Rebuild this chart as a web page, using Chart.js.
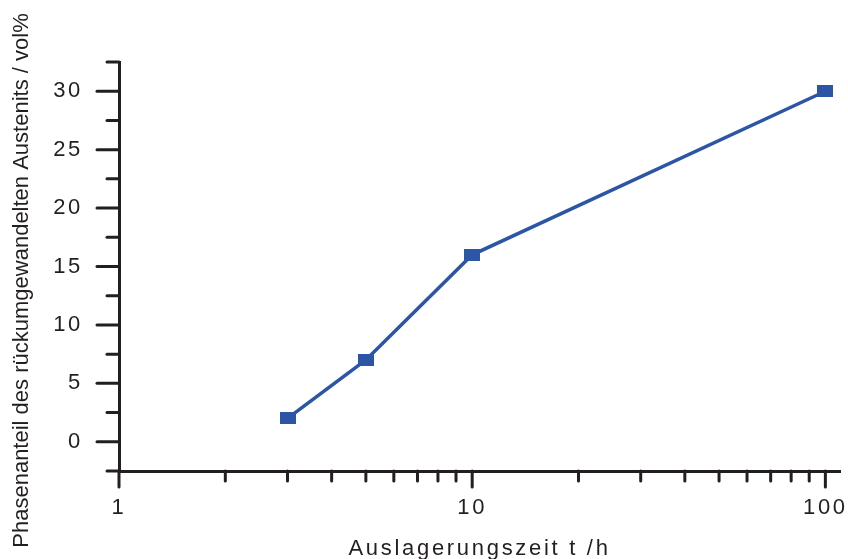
<!DOCTYPE html>
<html>
<head>
<meta charset="utf-8">
<script src="https://cdn.jsdelivr.net/npm/chart.js@4/dist/chart.umd.min.js"></script>
<style>
  html, body { margin: 0; padding: 0; background: #fff; }
  #wrap { width: 848px; height: 559px; }
</style>
</head>
<body>
<div id="wrap"><canvas id="myChart" width="848" height="559"></canvas></div>
<script>
// data
var hours = [3, 5, 10, 100];
var austenit = [2, 7, 16, 30];
var xTickLabels = [1, 10, 100];
var yTickLabels = [0, 5, 10, 15, 20, 25, 30];

var lineColor = '#2d55a6';
var axisColor = '#231f20';
var fontFamily = '"Liberation Sans", Arial, sans-serif';

// the markers are a bit wider than tall
var marker = document.createElement('canvas');
marker.width = 16; marker.height = 12;
var mctx = marker.getContext('2d');
mctx.fillStyle = lineColor;
mctx.fillRect(0, 0, 16, 12);

var points = [];
for (var i = 0; i < hours.length; i++) points.push({x: hours[i], y: austenit[i]});

var axisTicks = {
  id: 'axisTicks',
  beforeDraw: function(chart){
    var ctx = chart.ctx;
    ctx.letterSpacing = '2.7px';
    var ys = chart.scales.y;
    if (!ys._patched) {
      var orig = ys.drawTitle;
      ys.drawTitle = function(){
        var c = this.ctx;
        c.save();
        c.letterSpacing = '0px';
        c.translate(0, 14);
        orig.call(this);
        c.restore();
      };
      ys._patched = true;
    }
  },
  afterDraw: function(chart){
    var ctx = chart.ctx, xs = chart.scales.x, ys = chart.scales.y;
    var a = chart.chartArea;
    ctx.save();
    ctx.strokeStyle = axisColor;
    ctx.lineWidth = 3;
    ctx.lineCap = 'round';
    // x ticks, 1..100
    for (var e = 0; e <= 2; e++) {
      for (var d = 1; d <= 9; d++) {
        var v = d * Math.pow(10, e);
        if (v > 100) break;
        var px = xs.getPixelForValue(v);
        var len = (d == 1) ? 16 : 10;
        ctx.beginPath();
        ctx.moveTo(px, a.bottom);
        ctx.lineTo(px, a.bottom + len);
        ctx.stroke();
      }
    }
    // y ticks every 2.5
    ys.ticks.forEach(function(t){
      var py = ys.getPixelForValue(t.value);
      var len = (Math.abs(t.value % 5) < 1e-6) ? 22 : 12;
      ctx.beginPath();
      ctx.moveTo(a.left, py);
      ctx.lineTo(a.left - len, py);
      ctx.stroke();
    });
    ctx.restore();
  }
};

var ctx = document.getElementById('myChart');
var chart = new Chart(ctx, {
  type: 'line',
  data: {
    datasets: [{
      data: points,
      borderColor: lineColor,
      borderWidth: 3.5,
      pointStyle: marker,
      pointRadius: 8,
      pointHoverRadius: 8,
      backgroundColor: lineColor,
      tension: 0
    }]
  },
  options: {
    responsive: false,
    animation: false,
    events: [],
    layout: { autoPadding: false, padding: { top: 62, right: 8, left: 0, bottom: 0 } },
    plugins: { legend: { display: false }, tooltip: { enabled: false } },
    scales: {
      x: {
        type: 'logarithmic',
        min: 1,
        max: 110,
        afterFit: function(s){ s.height = 88; s.paddingLeft = 0; s.paddingRight = 0; },
        grid: { display: true, drawOnChartArea: false, drawTicks: false },
        border: { display: true, color: axisColor, width: 3 },
        ticks: {
          autoSkip: false,
          maxRotation: 0,
          padding: 24,
          color: axisColor,
          font: { family: fontFamily, size: 22 },
          callback: function(v){ return xTickLabels.indexOf(v) != -1 ? String(v) : ''; }
        },
        title: {
          display: true,
          text: 'Auslagerungszeit t /h',
          color: axisColor,
          font: { family: fontFamily, size: 22 },
          padding: { top: 0, bottom: -3 }
        }
      },
      y: {
        min: -2.5,
        max: 32.5,
        afterFit: function(s){ s.width = 119; s.paddingTop = 0; s.paddingBottom = 0; },
        grid: { display: true, drawOnChartArea: false, drawTicks: false },
        border: { display: true, color: axisColor, width: 3 },
        ticks: {
          stepSize: 2.5,
          autoSkip: false,
          padding: 36,
          color: axisColor,
          font: { family: fontFamily, size: 22 },
          callback: function(v){ return yTickLabels.indexOf(v) != -1 ? String(v) : ''; }
        },
        title: {
          display: true,
          text: 'Phasenanteil des rückumgewandelten Austenits / vol%',
          color: axisColor,
          font: { family: fontFamily, size: 22 },
          padding: { top: 9, bottom: 0 }
        }
      }
    }
  },
  plugins: [axisTicks]
});
</script>
</body>
</html>
